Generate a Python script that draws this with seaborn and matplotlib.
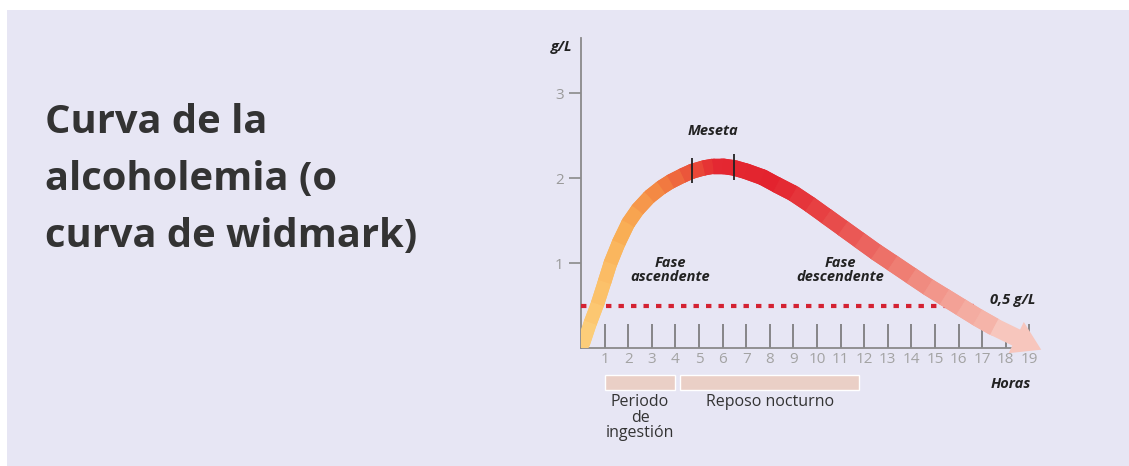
import numpy as np
import pandas as pd
import matplotlib
matplotlib.use("Agg")
import matplotlib.pyplot as plt
import seaborn as sns
from matplotlib.collections import LineCollection
from matplotlib.colors import LinearSegmentedColormap
from matplotlib.patches import Rectangle

# ---------------- data ----------------
title_lines = ["Curva de la", "alcoholemia (o", "curva de widmark)"]

hours = [0.1, 0.4, 0.7, 1.0, 1.25, 1.6, 2.0, 2.4, 2.9, 3.4, 3.8, 4.3, 4.7, 5.2,
         5.6, 6.0, 6.5, 7.0, 7.7, 8.3, 9.0, 9.7, 10.4, 11.1, 11.8, 12.5, 13.2,
         14.0, 14.7, 15.4, 16.1, 16.8, 17.5, 18.2, 19.5]
gl = [0.05, 0.30, 0.52, 0.78, 1.00, 1.24, 1.47, 1.63, 1.78, 1.89, 1.96, 2.03,
      2.08, 2.12, 2.14, 2.14, 2.12, 2.08, 2.01, 1.92, 1.82, 1.69, 1.55, 1.41,
      1.27, 1.13, 1.00, 0.85, 0.72, 0.60, 0.48, 0.36, 0.25, 0.15, -0.02]

hour_ticks = list(range(1, 20))
y_ticks = [1, 2, 3]
limit_value = 0.5
limit_hours = [0.0, 16.8]
plateau_hours = [4.7, 6.5]
period_starts = [1.0, 4.2]
period_ends = [4.0, 11.8]
period_labels = ["Periodo\nde\ningestión", "Reposo nocturno"]

# ---------------- style ----------------
sns.set_theme(style="white")
plt.rcParams["font.family"] = ["Open Sans", "DejaVu Sans"]

W, H = 1129, 466
fig = plt.figure(figsize=(W / 100, H / 100), dpi=100, facecolor="white")
fig.patches.append(Rectangle((7 / W, 0), 1, (H - 10) / H, transform=fig.transFigure,
                             facecolor="#E7E6F4", edgecolor="none", zorder=-5))

for i, line in enumerate(title_lines):
    fig.text(45 / W, 1 - (133 + 57 * i) / H, line, fontsize=28.7, weight="bold",
             color="#333333", va="baseline", ha="left")

ax = fig.add_axes([581 / W, (H - 348) / H, 472 / W, 310 / H])
ax.set_facecolor("none")
ax.set_zorder(2)

df = pd.DataFrame({"hora": hours, "gl": gl})

# 0.5 g/L limit line
lim_df = pd.DataFrame({"hora": limit_hours, "gl": [limit_value] * len(limit_hours)})
sns.lineplot(data=lim_df, x="hora", y="gl", ax=ax, color="#D42232", lw=3.0,
             dashes=False, zorder=3)
ax.lines[-1].set_linestyle((0, (1.3, 1.7)))
ax.lines[-1].set_dash_capstyle("butt")

ax.set_xlim(0, 20)
ax.set_ylim(0, 3.65)

# gradient band
cmap = LinearSegmentedColormap.from_list("alc", [
    (0.00, "#FDD27E"), (0.09, "#F9AE55"), (0.17, "#F38442"), (0.24, "#EA503A"),
    (0.29, "#E42832"), (0.42, "#E3232E"), (0.55, "#E84B4A"), (0.70, "#EF7F74"),
    (0.84, "#F4ABA0"), (1.00, "#F8CCC3")])
pts = df[["hora", "gl"]].to_numpy()
band = pts[:-2]
segs = np.stack([band[:-1], band[1:]], axis=1)
mids = (band[:-1, 0] + band[1:, 0]) / 2
lws = np.linspace(9.5, 13, len(segs))
cols = cmap(mids / 19.5)
ax.add_collection(LineCollection(segs, colors=cols, linewidths=lws,
                                 capstyle="round", joinstyle="round", zorder=4))
ax.add_collection(LineCollection(segs, colors=cols, linewidths=lws,
                                 capstyle="butt", joinstyle="round", zorder=4.1))
ax.annotate("", xy=pts[-1], xytext=pts[-3],
            arrowprops=dict(arrowstyle="simple,head_length=1.0,head_width=1.25,tail_width=0.64",
                            mutation_scale=20, color=cmap(0.97), lw=0,
                            shrinkA=0, shrinkB=0),
            zorder=4, annotation_clip=False)

# plateau markers
pv = np.interp(plateau_hours, hours, gl)
ax.vlines(plateau_hours, pv - 0.14, pv + 0.16, color="#222222", lw=1.3, zorder=5)

# axes styling
for s in ["top", "right"]:
    ax.spines[s].set_visible(False)
for s in ["left", "bottom"]:
    ax.spines[s].set_color("#8a8a8a")
    ax.spines[s].set_linewidth(1.3)
ax.spines["bottom"].set_bounds(0, 19)
ax.set_xticks(hour_ticks)
ax.set_xticklabels([str(h) for h in hour_ticks])
ax.set_yticks(y_ticks)
ax.set_yticklabels([str(v) for v in y_ticks])
ax.tick_params(axis="x", direction="in", length=17, width=1.2, color="#757575",
               labelcolor="#a3a3a3", labelsize=11, pad=3, bottom=True)
ax.tick_params(axis="y", direction="out", length=8.5, width=1.2, color="#8a8a8a",
               labelcolor="#9a9a9a", labelsize=11, pad=4, left=True)
ax.set_xlabel("")
ax.set_ylabel("")

# periods
ax.barh(y=[-0.405] * len(period_starts), width=np.array(period_ends) - np.array(period_starts),
        left=period_starts, height=0.176, color="#EACFC6", clip_on=False, zorder=2)
for s, e, lab in zip(period_starts, period_ends, period_labels):
    ax.text((s + e) / 2, -0.54, lab, ha="center", va="top", fontsize=11.5,
            color="#333333", linespacing=0.98, clip_on=False)

bi = dict(fontsize=10.5, weight="bold", style="italic", color="#222222",
          family=["Open Sans", "DejaVu Sans"])
ax.text(-0.8, 3.54, "g/L", ha="center", va="center", clip_on=False, **bi)
ax.text(5.6, 2.56, "Meseta", ha="center", va="center", **bi)
ax.text(3.77, 0.92, "Fase\nascendente", ha="center", va="center", linespacing=1.0, **bi)
ax.text(11.0, 0.92, "Fase\ndescendente", ha="center", va="center", linespacing=1.0, **bi)
ax.text(17.33, 0.56, "0,5 g/L", ha="left", va="center", **bi)
ax.text(18.2, -0.42, "Horas", ha="center", va="center", clip_on=False, **bi)

fig.savefig("out.png", dpi=100, facecolor="white")
